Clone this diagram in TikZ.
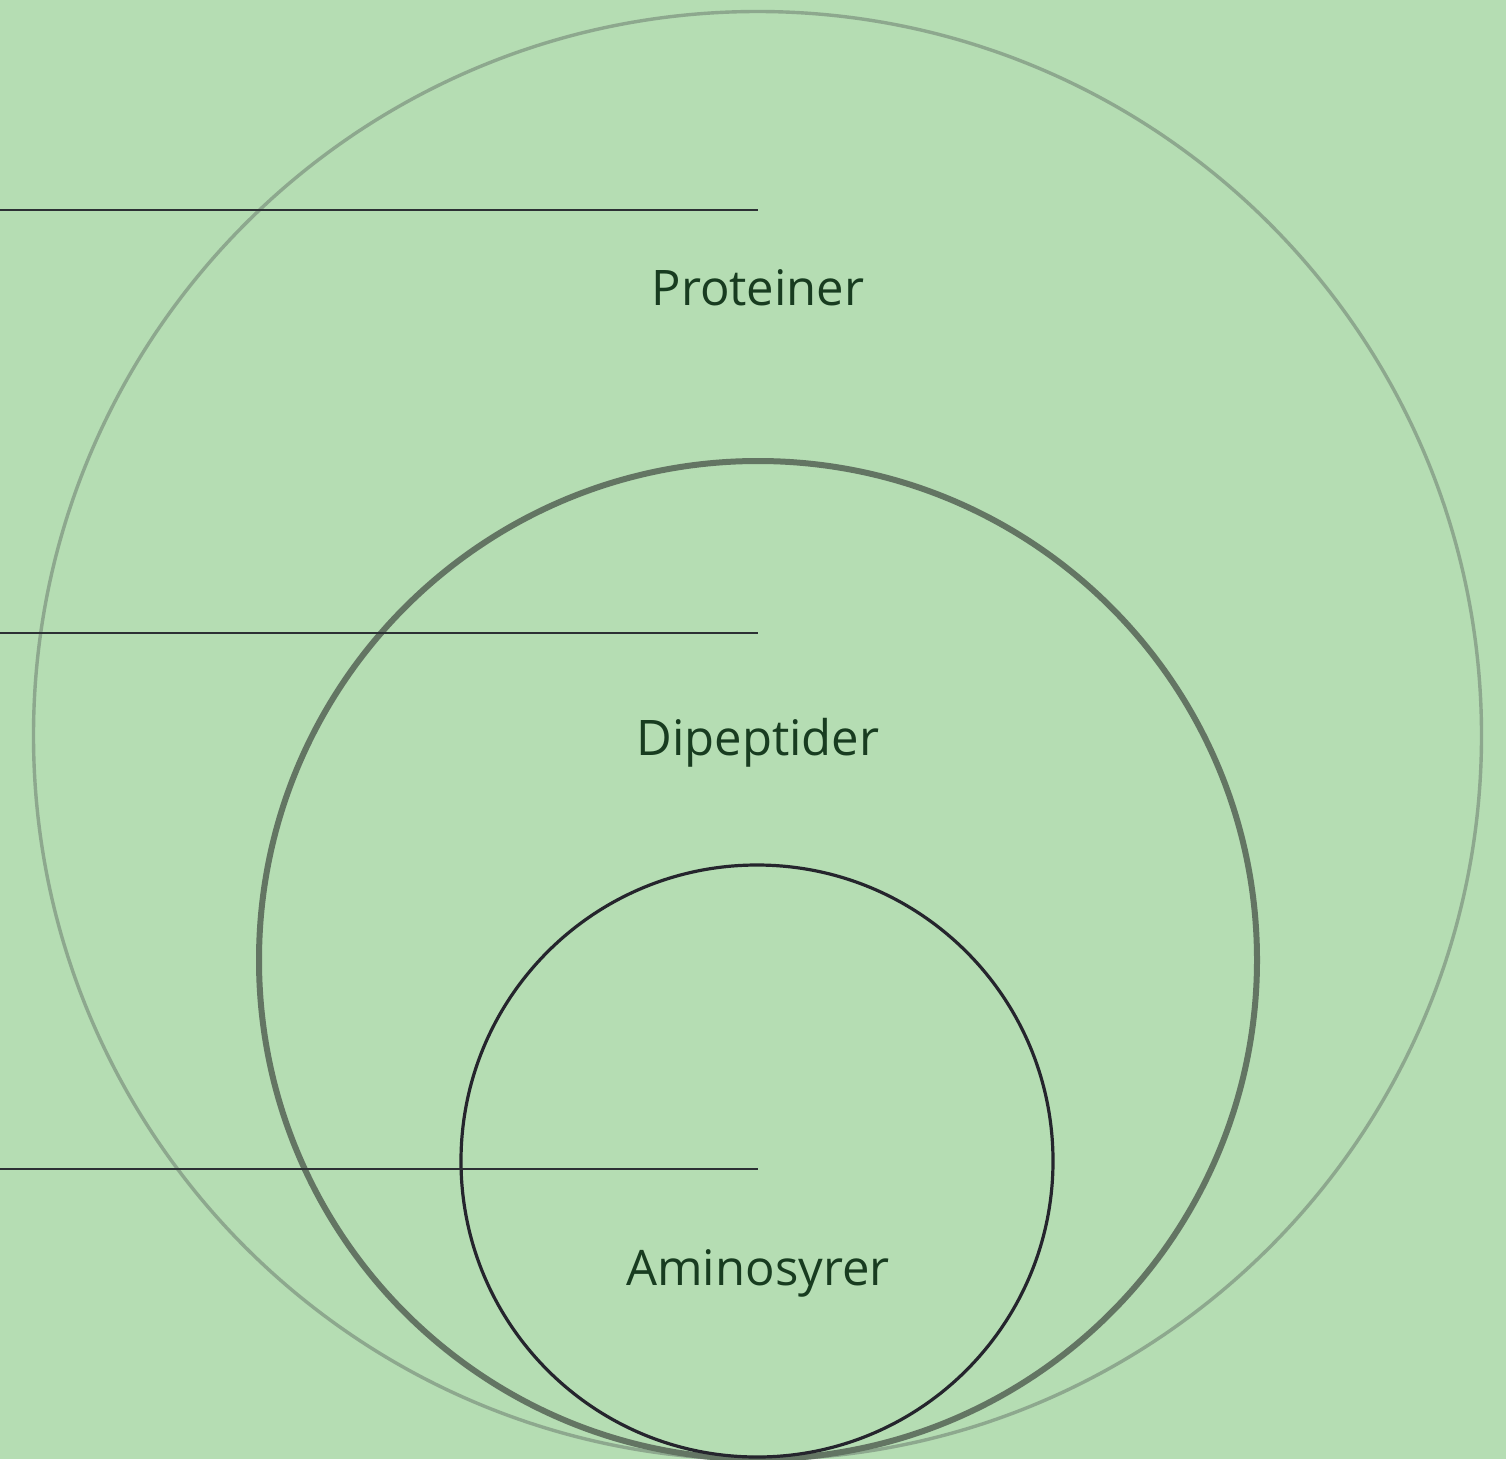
\documentclass[tikz,border=0pt]{standalone}
\usepackage{fontspec}
\setmainfont{Open Sans}
\definecolor{bg}{HTML}{B5DDB3}
\definecolor{outerc}{HTML}{8DA88E}
\definecolor{midc}{HTML}{637563}
\definecolor{innerc}{HTML}{25252D}
\definecolor{linec}{HTML}{2C3034}
\definecolor{txt}{HTML}{183C20}
\begin{document}
\begin{tikzpicture}[x=1pt,y=-1pt,
  lbl/.style={font=\fontsize{49}{58}\selectfont, text=txt, inner sep=0pt, anchor=base},
  guide/.style={draw=linec, line width=1.8pt}]
\fill[bg] (0,0) rectangle (1506,1459);
\useasboundingbox (0,0) rectangle (1506,1459);
\draw[outerc, line width=3.4pt] (757.5,735.5) circle (724);
\draw[midc, line width=6pt] (758,960) circle (499);
\draw[innerc, line width=3.2pt] (757,1161) circle (296);
\coordinate (l1a) at (0,210); \coordinate (l1b) at (758,210);
\coordinate (l2a) at (0,633); \coordinate (l2b) at (758,633);
\coordinate (l3a) at (0,1169); \coordinate (l3b) at (758,1169);
\draw[guide] (l1a) -- (l1b);
\draw[guide] (l2a) -- (l2b);
\draw[guide] (l3a) -- (l3b);
\node[lbl] (prot) at (758,305) {Proteiner};
\node[lbl] (dip) at (758,755) {Dipeptider};
\node[lbl] (amino) at (758,1285) {Aminosyrer};
\end{tikzpicture}
\end{document}
